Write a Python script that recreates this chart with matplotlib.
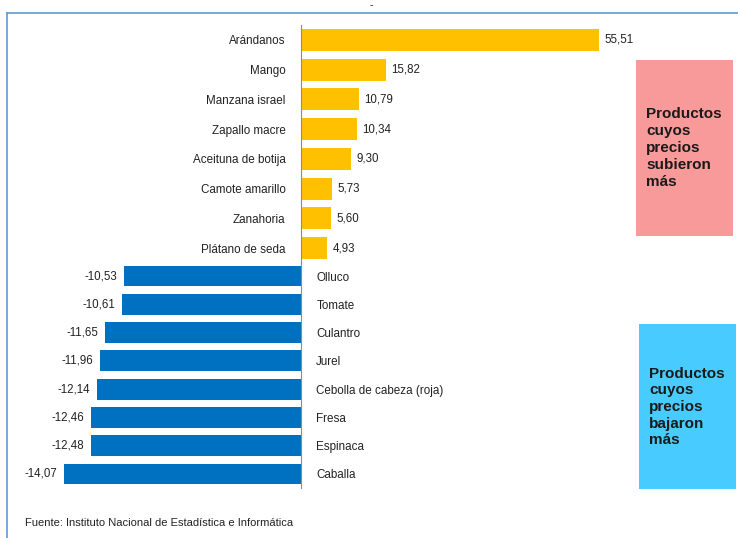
import matplotlib.pyplot as plt
from matplotlib.patches import Rectangle
from matplotlib.lines import Line2D

# products whose prices went up / down (% var.)
up_names = ['Arándanos', 'Mango', 'Manzana israel', 'Zapallo macre',
            'Aceituna de botija', 'Camote amarillo', 'Zanahoria', 'Plátano de seda']
up_vals = [55.51, 15.82, 10.79, 10.34, 9.30, 5.73, 5.60, 4.93]

down_names = ['Olluco', 'Tomate', 'Culantro', 'Jurel',
              'Cebolla de cabeza (roja)', 'Fresa', 'Espinaca', 'Caballa']
down_vals = [-10.53, -10.61, -11.65, -11.96, -12.14, -12.46, -12.48, -14.07]

W, H = 738, 538
fig = plt.figure(figsize=(W/100, H/100), dpi=100)

def box(x0, y0, x1, y1):
    # pixel box (top-left origin) -> figure fraction rect
    return [x0/W, 1 - y1/H, (x1-x0)/W, (y1-y0)/H]

def fmt(v):
    return f"{v:.2f}".replace('.', ',')

lab_font = dict(family=['Liberation Sans', 'DejaVu Sans'], size=8.4, color='#222222')
val_font = dict(family=['Liberation Sans', 'DejaVu Sans'], size=8.3, color='#222222')

# top chart (bigger scale), bottom chart (smaller scale) share the zero line
ax_up = fig.add_axes(box(40, 25.1, 640, 262.9))
ax_dn = fig.add_axes(box(40, 261.9, 640, 488.1))

ax_up.set_xlim(-261/5.37, 339/5.37)
ax_dn.set_xlim(-261/16.83, 339/16.83)

b1 = ax_up.barh(range(len(up_vals)), up_vals, height=0.74, color='#FFC000')
b2 = ax_dn.barh(range(len(down_vals)), down_vals, height=0.74, color='#0070C0')
ax_up.bar_label(b1, labels=[fmt(v) for v in up_vals], padding=4, **val_font)
ax_dn.bar_label(b2, labels=[fmt(v) for v in down_vals], padding=5, **val_font)

ax_dn.yaxis.tick_right()

# zero line (set spine positions before labels: it resets the ticks)
for ax, side in [(ax_up, 'left'), (ax_dn, 'right')]:
    for s in ax.spines.values():
        s.set_visible(False)
    ax.spines[side].set_visible(True)
    ax.spines[side].set_position(('data', 0))
    ax.spines[side].set_color('#8c8c8c')

for ax, names in [(ax_up, up_names), (ax_dn, down_names)]:
    ax.set_ylim(len(names) - 0.5, -0.5)
    ax.set_xticks([])
    ax.patch.set_alpha(0)
    ax.tick_params(axis='y', length=0, pad=11)
    ax.set_yticks(range(len(names)))
    ax.set_yticklabels(names, **lab_font)

# side boxes
fig.patches.append(Rectangle((636/W, 1-236/H), 97/W, 176/H, transform=fig.transFigure,
                             facecolor='#F99A9A', edgecolor='none'))
fig.patches.append(Rectangle((639/W, 1-489/H), 97/W, 165/H, transform=fig.transFigure,
                             facecolor='#48CCFF', edgecolor='none'))
fig.text(646/W, 1-148/H, 'Productos\ncuyos\nprecios\nsubieron\nmás', ha='left', va='center',
         family=['Liberation Sans', 'DejaVu Sans'], weight='bold', size=11,
         color='#1a1a1a', linespacing=1.25)
fig.text(649/W, 1-407/H, 'Productos\ncuyos\nprecios\nbajaron\nmás', ha='left', va='center',
         family=['Liberation Sans', 'DejaVu Sans'], weight='bold', size=11,
         color='#1a1a1a', linespacing=1.25)

# frame
fig.lines.append(Line2D([7/W, 1], [1-13/H, 1-13/H], transform=fig.transFigure,
                        color='#5B9BD5', lw=1.2))
fig.lines.append(Line2D([7/W, 7/W], [0, 1-13/H], transform=fig.transFigure,
                        color='#5B9BD5', lw=1.2))

fig.text(371/W, 1-5/H, '-', ha='center', va='center', size=7, color='#333333')
fig.text(25/W, 1-523/H, 'Fuente: Instituto Nacional de Estadística e Informática',
         ha='left', va='center', family=['Liberation Sans', 'DejaVu Sans'],
         size=8.0, color='#222222')

fig.savefig('out.png', dpi=100)
